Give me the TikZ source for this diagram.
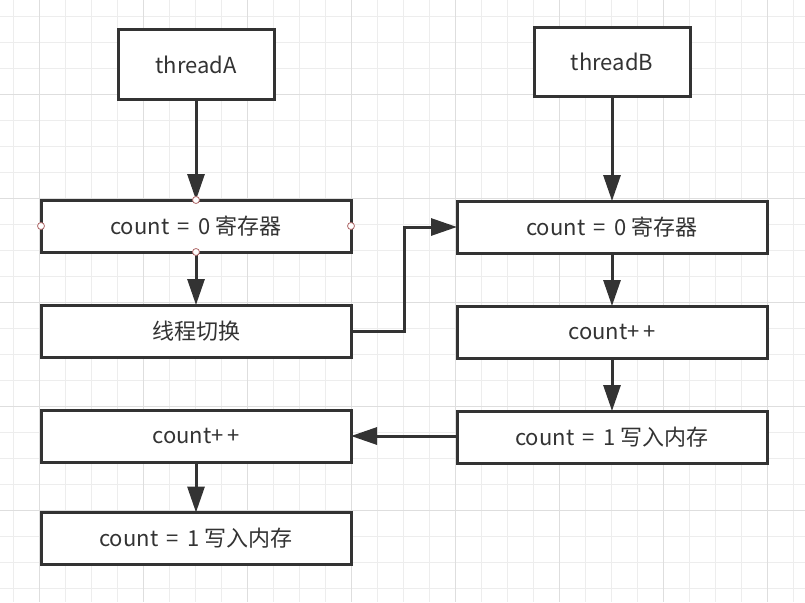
\documentclass[tikz,border=0pt]{standalone}
\usepackage{fontspec}
\setmainfont{Noto Sans CJK SC}
\usetikzlibrary{arrows.meta}
\definecolor{ink}{HTML}{333333}
\definecolor{gridminor}{HTML}{EDEDED}
\definecolor{gridmajor}{HTML}{DEDEDE}
\definecolor{handlered}{HTML}{B06A6A}
\begin{document}
\begin{tikzpicture}[x=1pt,y=-1pt,
    every node/.style={font=\fontsize{22}{26}\selectfont, text=ink},
    box/.style={draw=ink, line width=3pt, fill=white, outer sep=0pt,
      minimum width=310pt, minimum height=52pt, inner sep=0pt},
    head/.style={box, minimum width=156pt, minimum height=69pt},
    flow/.style={draw=ink, line width=3pt, -{Triangle[length=26pt,width=17pt]}},
    handle/.style={draw=handlered, fill=white, line width=0.8pt},
  ]
  % canvas and grid
  \useasboundingbox (0,0) rectangle (805,602);
  \fill[white] (0,0) rectangle (805,602);
  \foreach \i in {0,...,30}
    \draw[gridminor, line width=0.8pt] (13+26*\i,0) -- (13+26*\i,602);
  \foreach \i in {0,...,22}
    \draw[gridminor, line width=0.8pt] (0,16+26*\i) -- (805,16+26*\i);
  \foreach \i in {0,...,7}
    \draw[gridmajor, line width=0.8pt] (39+104*\i,0) -- (39+104*\i,602);
  \foreach \i in {0,...,4}
    \draw[gridmajor, line width=0.8pt] (0,94+104*\i) -- (805,94+104*\i);

  % thread A
  \node[head] (thrA) at (196,64.5) {threadA};
  \node[box] (regA) at (196,226) {count\, =\, 0 寄存器};
  \node[box] (swA) at (196,331) {线程切换};
  \node[box] (incA) at (196,436) {count+\,+};
  \node[box] (memA) at (196,538.5) {count\, =\, 1 写入内存};

  % thread B
  \node[head] (thrB) at (612,62) {threadB};
  \node[box] (regB) at (612,227) {count\, =\, 0 寄存器};
  \node[box] (incB) at (612,332) {count+\,+};
  \node[box] (memB) at (612,437) {count\, =\, 1 写入内存};

  \draw[flow] (thrA) -- (regA);
  \draw[flow] (regA) -- (swA);
  \draw[flow] (swA.east) -- ++(53,0) |- (regB.west);
  \draw[flow] (thrB) -- (regB);
  \draw[flow] (regB) -- (incB);
  \draw[flow] (incB) -- (memB);
  \draw[flow] (memB.west |- incA.east) -- (incA.east);
  \draw[flow] (incA) -- (memA);

  \foreach \a in {north,south,east,west}
    \draw[handle] (regA.\a) circle (3.5);
\end{tikzpicture}
\end{document}
